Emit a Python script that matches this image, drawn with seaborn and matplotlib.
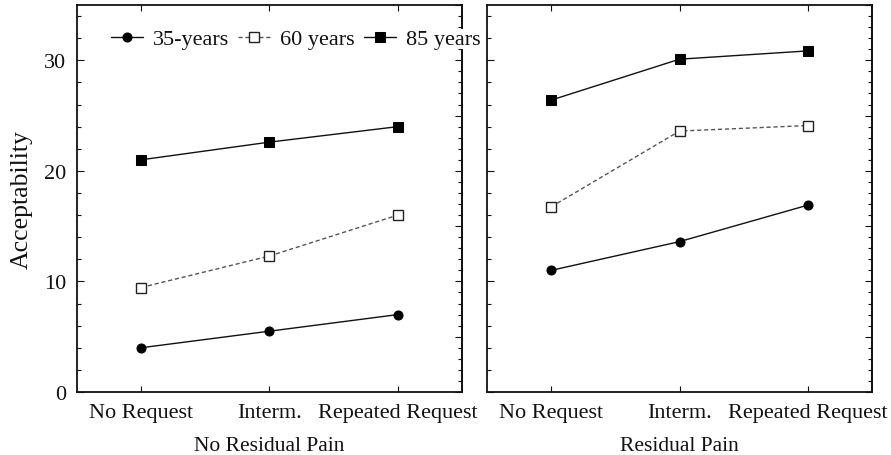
import matplotlib.pyplot as plt
import numpy as np
import pandas as pd
import seaborn as sns
from matplotlib.ticker import MultipleLocator, NullFormatter

# data
requests = ['No Request', 'Interm.', 'Repeated Request']
panels = ['No Residual Pain', 'Residual Pain']
groups = ['35-years', '60 years', '85 years']

no_pain_35 = [4.0, 5.5, 7.0]
no_pain_60 = [9.45, 12.3, 16.0]
no_pain_85 = [21.0, 22.6, 24.0]
pain_35 = [11.0, 13.6, 16.9]
pain_60 = [16.75, 23.6, 24.1]
pain_85 = [26.4, 30.1, 30.85]

rows = []
for panel, series in zip(panels, [[no_pain_35, no_pain_60, no_pain_85],
                                  [pain_35, pain_60, pain_85]]):
    for group, vals in zip(groups, series):
        for req, v in zip(requests, vals):
            rows.append({'panel': panel, 'group': group, 'request': req, 'acceptability': v})
df = pd.DataFrame(rows)

sns.set_style('ticks')
plt.rcParams['font.family'] = ['Liberation Serif', 'DejaVu Serif']
plt.rcParams['text.color'] = '#111111'
plt.rcParams['axes.labelcolor'] = '#111111'
plt.rcParams['xtick.color'] = '#111111'
plt.rcParams['ytick.color'] = '#111111'

styles = {
    '35-years': dict(marker='o', markersize=6.5, color='#111111', markerfacecolor='#000000',
                     markeredgecolor='#000000', linestyle='-', linewidth=1.0),
    '60 years': dict(marker='s', markersize=7, color='#555555', markerfacecolor='white',
                     markeredgecolor='#222222', markeredgewidth=1.0, linestyle=(0, (3, 2)), linewidth=1.0),
    '85 years': dict(marker='s', markersize=7.5, color='#111111', markerfacecolor='#000000',
                     markeredgecolor='#000000', linestyle='-', linewidth=1.0),
}

fig = plt.figure(figsize=(8.91, 4.56), dpi=100)
ax1 = fig.add_axes([0.0864, 0.1382, 0.4321, 0.8486])
ax2 = fig.add_axes([0.5466, 0.1382, 0.4321, 0.8486])

for ax, panel in zip([ax1, ax2], panels):
    sub = df[df['panel'] == panel]
    for group in groups:
        g = sub[sub['group'] == group]
        sns.lineplot(data=g, x='request', y='acceptability', ax=ax, sort=False,
                     label=group, legend=False, **styles[group])
    ax.set_xlim(-0.5, 2.5)
    ax.set_ylim(0, 35)
    ax.set_xlabel(panel, fontsize=15.5, labelpad=10)
    ax.set_ylabel('')
    for s in ax.spines.values():
        s.set_visible(True)
        s.set_color('#111111')
        s.set_linewidth(1.3)
    ax.yaxis.set_major_locator(MultipleLocator(10))
    ax.yaxis.set_minor_locator(MultipleLocator(2))
    ax.tick_params(axis='x', which='both', direction='in', top=True, bottom=True,
                   length=4, width=0.8, labelsize=16, pad=8)
    ax.tick_params(axis='y', which='major', direction='in', left=True, right=False,
                   length=5, width=0.8, labelsize=16, pad=8)
    ax.tick_params(axis='y', which='minor', direction='in', left=True, right=False,
                   length=3, width=0.8)
    sec = ax.secondary_yaxis('right')
    sec.yaxis.set_major_locator(MultipleLocator(5))
    sec.yaxis.set_minor_locator(MultipleLocator(1))
    sec.yaxis.set_major_formatter(NullFormatter())
    sec.tick_params(which='major', direction='in', length=5, width=0.8)
    sec.tick_params(which='minor', direction='in', length=3, width=0.8)
    sec.spines['right'].set_linewidth(1.3)
    sec.spines['right'].set_color('#111111')

ax2.tick_params(axis='y', which='both', labelleft=False)
ax1.set_ylabel('Acceptability', fontsize=18.5, labelpad=8)

leg = ax1.legend(loc='center left', bbox_to_anchor=(0.088, 0.912), ncol=3, frameon=True,
                 fontsize=16, handlelength=1.44, handletextpad=0.45, columnspacing=0.42,
                 borderpad=0, borderaxespad=0, fancybox=False, framealpha=1)
leg.get_frame().set_facecolor('white')
leg.get_frame().set_edgecolor('none')
leg.set_zorder(10)

fig.savefig('out.png', dpi=100)
